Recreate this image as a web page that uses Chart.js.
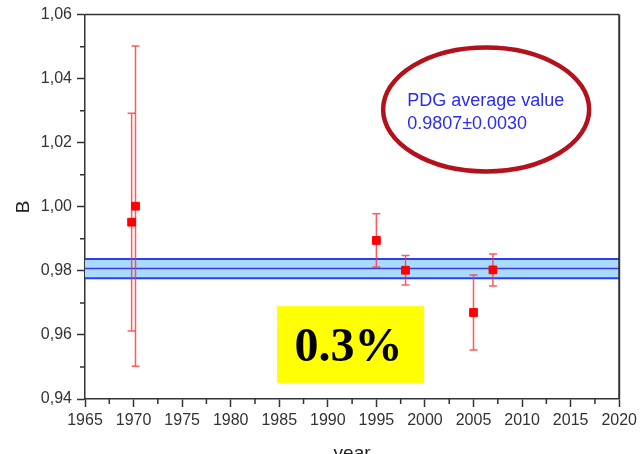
<!DOCTYPE html>
<html>
<head>
<meta charset="utf-8">
<script src="https://cdn.jsdelivr.net/npm/chart.js@4.4.1/dist/chart.umd.min.js"></script>
<style>
  html, body { margin: 0; padding: 0; background: #ffffff; }
  #wrap { width: 641px; height: 454px; }
</style>
</head>
<body>
<div id="wrap"><canvas id="chart" width="641" height="454"></canvas></div>
<script>
// Measurements of B by year, with their uncertainties
const years  = [1969.8, 1970.2, 1995, 1998, 2005, 2007];
const values = [0.9952, 1.0002, 0.9895, 0.9802, 0.9670, 0.9803];
const errors = [0.0340, 0.0500, 0.0083, 0.0046, 0.0117, 0.0050];

// PDG world average and its error
const pdgValue = [0.9807];
const pdgError = [0.0030];

// Axis ticks
const xTicks = [1965, 1970, 1975, 1980, 1985, 1990, 1995, 2000, 2005, 2010, 2015, 2020];
const yTicks = [0.94, 0.96, 0.98, 1.00, 1.02, 1.04, 1.06];

// Annotation texts
const pdgLabel = ['PDG average value', '0.9807\u00B10.0030'];
const precisionLabel = ['0.3%'];

const AXIS_COLOR = '#333333';
const SANS = '"Liberation Sans", Arial, sans-serif';
const SERIF = '"Liberation Serif", "Times New Roman", serif';

function midpoints(arr) {
  const out = [];
  for (let i = 0; i < arr.length - 1; i++) out.push((arr[i] + arr[i + 1]) / 2);
  return out;
}

const decorations = {
  id: 'decorations',
  beforeDatasetsDraw(chart) {
    const { ctx, chartArea: a, scales: { x, y } } = chart;
    ctx.save();

    // PDG band
    const yc = y.getPixelForValue(pdgValue[0]);
    const yt = y.getPixelForValue(pdgValue[0] + pdgError[0]);
    const yb = y.getPixelForValue(pdgValue[0] - pdgError[0]);
    ctx.fillStyle = '#a8dbff';
    ctx.fillRect(a.left, yt, a.right - a.left, yb - yt);
    ctx.strokeStyle = '#2f3cf2';
    ctx.lineWidth = 2;
    [yt, yb].forEach(v => {
      ctx.beginPath(); ctx.moveTo(a.left, v); ctx.lineTo(a.right, v); ctx.stroke();
    });
    ctx.strokeStyle = '#3a3ad8';
    ctx.lineWidth = 1.5;
    ctx.beginPath(); ctx.moveTo(a.left, yc); ctx.lineTo(a.right, yc); ctx.stroke();

    // Error bars
    ctx.strokeStyle = 'rgba(255, 50, 50, 0.8)';
    ctx.lineWidth = 1.5;
    years.forEach((yr, i) => {
      const cx = x.getPixelForValue(yr);
      const top = y.getPixelForValue(values[i] + errors[i]);
      const bot = y.getPixelForValue(values[i] - errors[i]);
      ctx.beginPath();
      ctx.moveTo(cx, top); ctx.lineTo(cx, bot);
      ctx.moveTo(cx - 4, top); ctx.lineTo(cx + 4, top);
      ctx.moveTo(cx - 4, bot); ctx.lineTo(cx + 4, bot);
      ctx.stroke();
    });
    ctx.restore();
  },
  afterDraw(chart) {
    const { ctx, chartArea: a, scales: { x, y } } = chart;
    ctx.save();

    // Frame: top and right edges
    ctx.strokeStyle = AXIS_COLOR;
    ctx.lineWidth = 1.5;
    ctx.beginPath();
    ctx.moveTo(a.left, a.top); ctx.lineTo(a.right, a.top);
    ctx.stroke();
    ctx.lineWidth = 2;
    ctx.beginPath();
    ctx.moveTo(a.right, a.top); ctx.lineTo(a.right, a.bottom);
    ctx.stroke();

    // Minor ticks
    ctx.lineWidth = 1.5;
    ctx.beginPath();
    midpoints(xTicks).forEach(v => {
      const px = x.getPixelForValue(v);
      ctx.moveTo(px, a.bottom); ctx.lineTo(px, a.bottom + 5);
    });
    midpoints(yTicks).forEach(v => {
      const py = y.getPixelForValue(v);
      ctx.moveTo(a.left, py); ctx.lineTo(a.left - 5, py);
    });
    ctx.stroke();

    // PDG annotation ellipse
    const ex = x.getPixelForValue(2006.3);
    const ey = y.getPixelForValue(1.0304);
    ctx.strokeStyle = '#b3111b';
    ctx.lineWidth = 4.5;
    ctx.beginPath();
    ctx.ellipse(ex, ey, 103, 62, 0, 0, Math.PI * 2);
    ctx.stroke();
    ctx.fillStyle = '#2a2cf5';
    ctx.font = '18px ' + SANS;
    ctx.textAlign = 'left';
    ctx.textBaseline = 'alphabetic';
    ctx.fillText(pdgLabel[0], ex - 79, ey - 3);
    ctx.fillText(pdgLabel[1], ex - 79, ey + 20);

    // Precision box
    const bx0 = x.getPixelForValue(1984.77);
    const bx1 = x.getPixelForValue(1999.92);
    const by0 = y.getPixelForValue(0.96898);
    const by1 = y.getPixelForValue(0.94504);
    ctx.fillStyle = '#ffff00';
    ctx.fillRect(bx0, by0, bx1 - bx0, by1 - by0);
    ctx.fillStyle = '#000000';
    ctx.font = 'bold 48px ' + SERIF;
    ctx.textAlign = 'center';
    ctx.fillText(precisionLabel[0], (bx0 + bx1) / 2 - 2, by1 - 22);

    ctx.restore();
  }
};

new Chart(document.getElementById('chart'), {
  type: 'scatter',
  data: {
    datasets: [{
      data: years.map((yr, i) => ({ x: yr, y: values[i] })),
      pointStyle: 'rect',
      pointRadius: 5.5,
      borderWidth: 1,
      backgroundColor: '#ff0000',
      borderColor: '#ff0000'
    }]
  },
  options: {
    responsive: false,
    animation: false,
    devicePixelRatio: 1,
    layout: { autoPadding: false, padding: { top: 11, right: 21, left: 0, bottom: 0 } },
    plugins: { legend: { display: false }, tooltip: { enabled: false } },
    scales: {
      x: {
        type: 'linear',
        min: 1965, max: 2020,
        afterBuildTicks: s => { s.ticks = xTicks.map(v => ({ value: v })); },
        afterFit: s => { s.height = 55; },
        grid: { drawOnChartArea: false, drawTicks: true, tickLength: 8, tickColor: AXIS_COLOR, tickWidth: 1.5 },
        border: { color: AXIS_COLOR, width: 1.5 },
        ticks: {
          color: AXIS_COLOR, font: { family: SANS, size: 16 }, padding: 4, maxRotation: 0, autoSkip: false,
          callback: v => String(Math.round(v))
        },
        title: { display: true, text: 'year', color: '#222222', font: { family: SANS, size: 19 }, padding: { top: 0, bottom: -11 } }
      },
      y: {
        type: 'linear',
        min: 0.94, max: 1.06,
        afterBuildTicks: s => { s.ticks = yTicks.map(v => ({ value: v })); },
        afterFit: s => { s.width = 85; },
        grid: { drawOnChartArea: false, drawTicks: true, tickLength: 8, tickColor: AXIS_COLOR, tickWidth: 1.5 },
        border: { color: AXIS_COLOR, width: 1.5 },
        ticks: {
          color: AXIS_COLOR, font: { family: SANS, size: 16 }, padding: 5, autoSkip: false,
          callback: v => v.toFixed(2).replace('.', ',')
        },
        title: { display: true, text: 'B', color: '#222222', font: { family: SANS, size: 19 }, padding: { top: 12, bottom: 0 } }
      }
    }
  },
  plugins: [decorations]
});
</script>
</body>
</html>
